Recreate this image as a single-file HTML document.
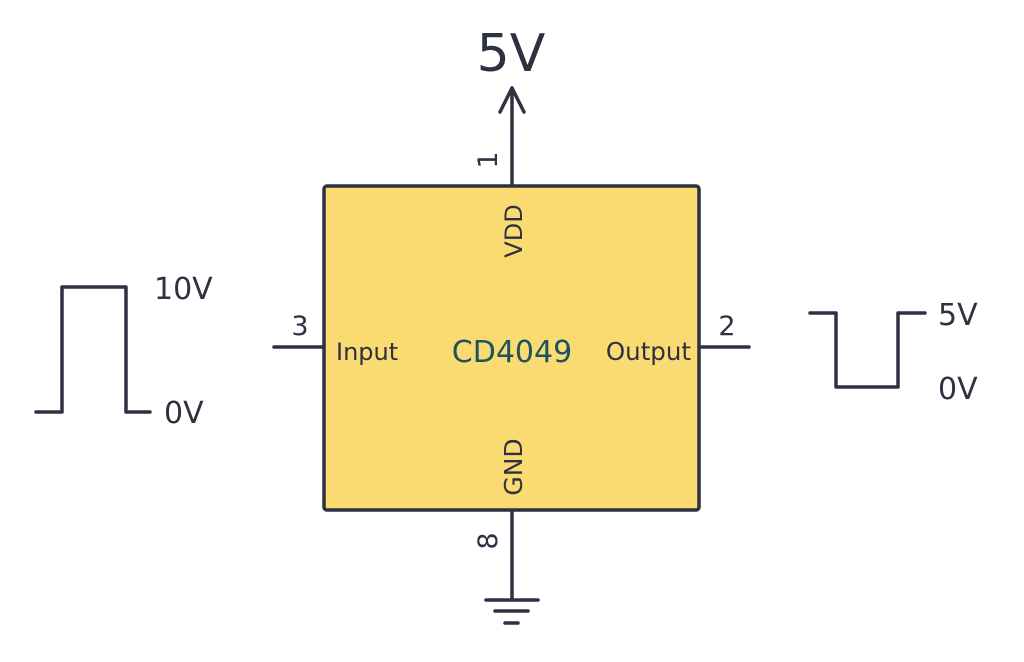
<!DOCTYPE html>
<html><head><meta charset="utf-8"><style>
html,body{margin:0;padding:0;background:#fff;}
svg{display:block;}
text{font-family:"DejaVu Sans","Liberation Sans",sans-serif;fill:#2d3142;}
</style></head><body>
<svg width="1024" height="662" viewBox="0 0 1024 662" xmlns="http://www.w3.org/2000/svg">
<g stroke="#2d3142" stroke-width="3.5" fill="none" stroke-linecap="round" stroke-linejoin="round">
<rect x="324" y="186" width="375" height="324" rx="3" fill="#fadb71"/>
<line x1="512" y1="186" x2="512" y2="88"/>
<polyline points="500,112 512,88 524,112"/>
<line x1="512" y1="510" x2="512" y2="600"/>
<line x1="486" y1="600" x2="538" y2="600"/>
<line x1="495" y1="611" x2="528" y2="611"/>
<line x1="505" y1="623" x2="518" y2="623"/>
<line x1="274" y1="347" x2="324" y2="347"/>
<line x1="699" y1="347" x2="749" y2="347"/>
<polyline points="36,412 62,412 62,287 126,287 126,412 150,412"/>
<polyline points="810,313 836,313 836,387 898,387 898,313 925,313"/>
</g>
<text x="511" y="71" font-size="52" text-anchor="middle">5V</text>
<text transform="translate(497,160) rotate(-90)" font-size="27" text-anchor="middle">1</text>
<text transform="translate(497,541) rotate(-90)" font-size="27" text-anchor="middle">8</text>
<text transform="translate(522,231) rotate(-90)" font-size="24" text-anchor="middle">VDD</text>
<text transform="translate(522,467) rotate(-90)" font-size="25" text-anchor="middle">GND</text>
<text x="300" y="335" font-size="27" text-anchor="middle">3</text>
<text x="727" y="335" font-size="27" text-anchor="middle">2</text>
<text x="336" y="360" font-size="24">Input</text>
<text x="691" y="360" font-size="24.5" text-anchor="end">Output</text>
<text x="512" y="362" font-size="30" text-anchor="middle" style="fill:#1d5260">CD4049</text>
<text x="154" y="299" font-size="30">10V</text>
<text x="164" y="423" font-size="30">0V</text>
<text x="938" y="325" font-size="30">5V</text>
<text x="938" y="399" font-size="30">0V</text>
</svg>
</body></html>
